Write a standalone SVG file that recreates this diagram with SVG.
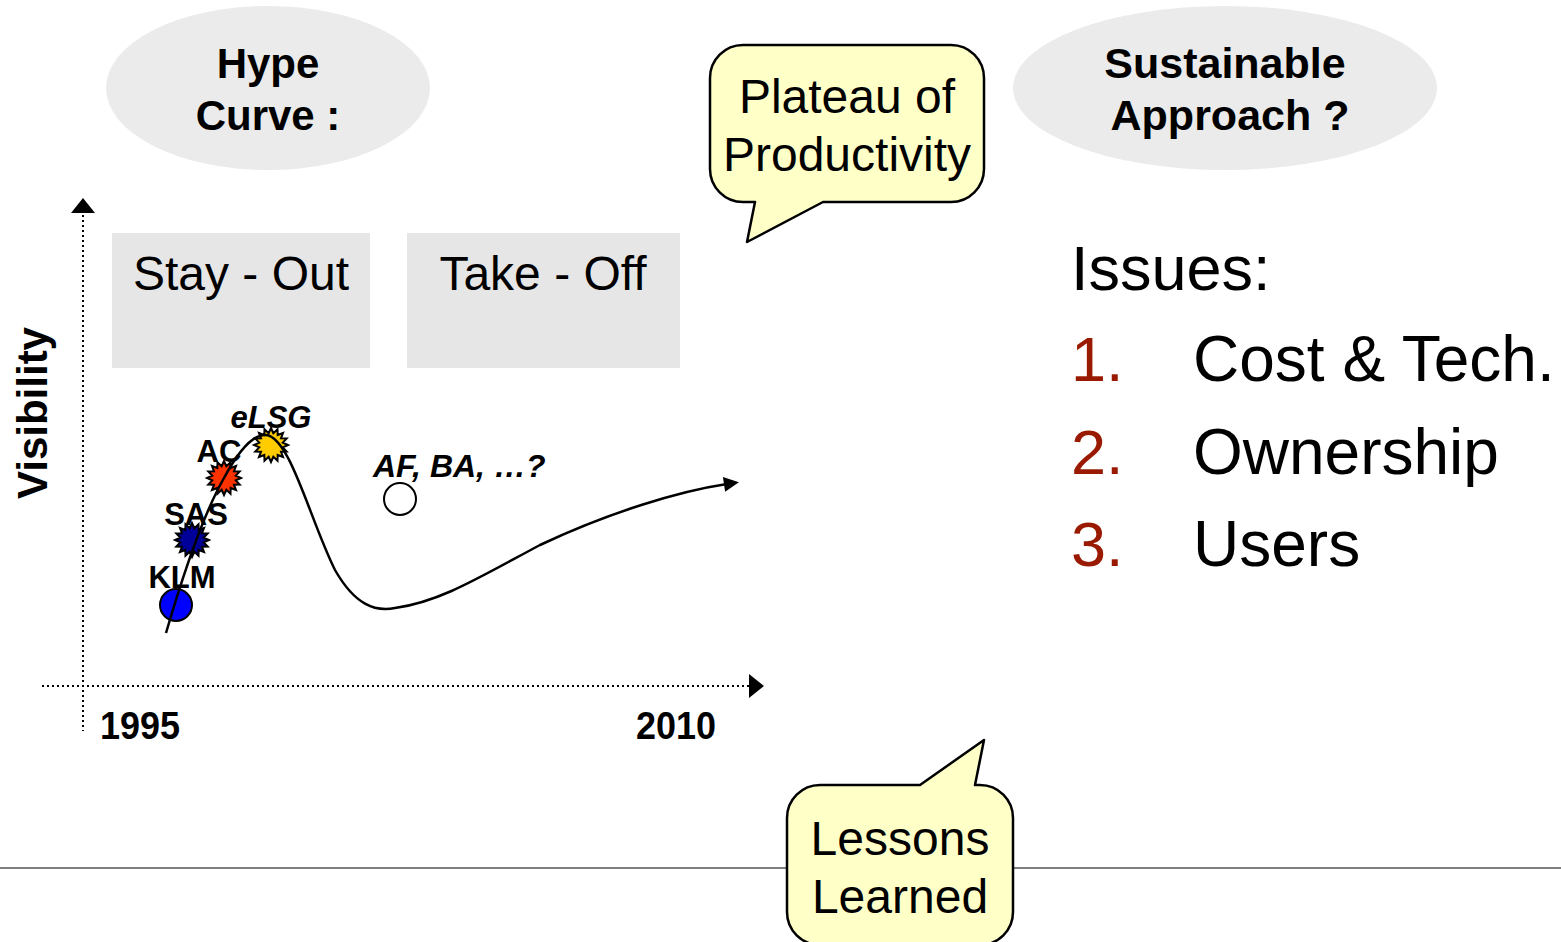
<svg xmlns="http://www.w3.org/2000/svg" width="1561" height="942" viewBox="0 0 1561 942">
<style>
.b{font-family:"Liberation Sans",Arial,sans-serif;font-weight:bold;fill:#000}
.r{font-family:"Liberation Sans",Arial,sans-serif;fill:#000}
.bi{font-family:"Liberation Sans",Arial,sans-serif;font-weight:bold;font-style:italic;fill:#000}
.num{font-family:"Liberation Sans",Arial,sans-serif;fill:#991a00}
.ell{fill:#ebebeb}
.box{fill:#e6e6e6}
.call{fill:#ffffc8;stroke:#000;stroke-width:2.5;stroke-linejoin:round}
.mk{stroke:#000;stroke-width:2}
</style>
<defs>
<path id="star" d="M17,0 L11.77,2.34 L15.71,6.51 L9.98,6.67 L12.02,12.02 L6.67,9.98 L6.51,15.71 L2.34,11.77 L0,17 L-2.34,11.77 L-6.51,15.71 L-6.67,9.98 L-12.02,12.02 L-9.98,6.67 L-15.71,6.51 L-11.77,2.34 L-17,0 L-11.77,-2.34 L-15.71,-6.51 L-9.98,-6.67 L-12.02,-12.02 L-6.67,-9.98 L-6.51,-15.71 L-2.34,-11.77 L0,-17 L2.34,-11.77 L6.51,-15.71 L6.67,-9.98 L12.02,-12.02 L9.98,-6.67 L15.71,-6.51 L11.77,-2.34 Z"/>
<marker id="arr" viewBox="0 0 10 10" refX="2" refY="5" markerWidth="7" markerHeight="6" markerUnits="strokeWidth" orient="auto">
<path d="M0,0 L10,5 L0,10 Z" fill="#000"/>
</marker>
</defs>
<rect width="1561" height="942" fill="#fff"/>

<line x1="0" y1="868" x2="1561" y2="868" stroke="#000" stroke-width="1.2"/>

<g id="hype-curve-title">
<ellipse class="ell" cx="268" cy="88" rx="162" ry="82"/>
<text class="b" x="268" y="78" font-size="42" text-anchor="middle">Hype</text>
<text class="b" x="268" y="130" font-size="42" text-anchor="middle">Curve :</text>
</g>

<g id="sustainable-title">
<ellipse class="ell" cx="1225" cy="88" rx="212" ry="82"/>
<text class="b" x="1225" y="78" font-size="43" text-anchor="middle">Sustainable</text>
<text class="b" x="1230" y="130" font-size="43" text-anchor="middle">Approach ?</text>
</g>

<g id="stay-out">
<rect class="box" x="112" y="233" width="258" height="135"/>
<text class="r" x="241" y="290" font-size="48" text-anchor="middle">Stay - Out</text>
</g>
<g id="take-off">
<rect class="box" x="407" y="233" width="273" height="135"/>
<text class="r" x="543" y="290" font-size="48" text-anchor="middle">Take - Off</text>
</g>

<g id="axes">
<line x1="83" y1="210" x2="83" y2="731" stroke="#000" stroke-width="2" stroke-dasharray="2,3"/>
<polygon points="83,198 71,213 95,213" fill="#000"/>
<line x1="42" y1="686" x2="750" y2="686" stroke="#000" stroke-width="2" stroke-dasharray="2,3"/>
<polygon points="764,686 749,674 749,698" fill="#000"/>
<text class="b" x="0" y="0" font-size="42" text-anchor="middle" transform="translate(47,413) rotate(-90)">Visibility</text>
<text class="b" x="100" y="739" font-size="38" textLength="80" lengthAdjust="spacingAndGlyphs">1995</text>
<text class="b" x="636" y="739" font-size="38" textLength="80" lengthAdjust="spacingAndGlyphs">2010</text>
</g>

<g id="klm">
<circle class="mk" cx="176" cy="605" r="16" fill="#0000ff"/>
<text class="b" x="182" y="588" font-size="31" text-anchor="middle">KLM</text>
</g>
<g id="sas">
<use href="#star" class="mk" fill="#000099" transform="translate(192,540)"/>
<text class="b" x="196" y="525" font-size="31" text-anchor="middle">SAS</text>
</g>
<g id="ac">
<use href="#star" class="mk" fill="#ff3300" transform="translate(224,478)"/>
<text class="b" x="219" y="462" font-size="31" text-anchor="middle">AC</text>
</g>
<g id="elsg">
<use href="#star" class="mk" fill="#ffcc00" transform="translate(271,445)"/>
<text class="bi" x="271" y="428" font-size="31" text-anchor="middle">eLSG</text>
</g>
<g id="af-ba">
<circle cx="400" cy="499" r="16" fill="#fff" stroke="#000" stroke-width="2"/>
<text class="bi" x="373" y="477" font-size="32">AF, BA, …?</text>
</g>

<g id="connectors">
<path d="M166,633 C180,585 200,520 224,478 C238,452 252,434 266,435 C290,437 310,520 335,570 C355,605 375,612 395,608 C440,602 480,577 540,545 C610,512 680,491 727,484" fill="none" stroke="#000" stroke-width="2.5" marker-end="url(#arr)"/>
</g>

<g id="plateau-callout">
<path class="call" d="M743,45 H951 A33,33 0 0 1 984,78 V169 A33,33 0 0 1 951,202 H823 L747,242 L755,202 H743 A33,33 0 0 1 710,169 V78 A33,33 0 0 1 743,45 Z"/>
<text class="r" x="847" y="113" font-size="48" text-anchor="middle">Plateau of</text>
<text class="r" x="847" y="171" font-size="48" text-anchor="middle">Productivity</text>
</g>

<g id="lessons-callout">
<path class="call" d="M820,785 H920 L984,740 L975,785 H980 A33,33 0 0 1 1013,818 V912 A33,33 0 0 1 980,945 H820 A33,33 0 0 1 787,912 V818 A33,33 0 0 1 820,785 Z"/>
<text class="r" x="900" y="855" font-size="48" text-anchor="middle">Lessons</text>
<text class="r" x="900" y="913" font-size="48" text-anchor="middle">Learned</text>
</g>

<g id="issues">
<text class="r" x="1071" y="290" font-size="63">Issues:</text>
<text class="num" x="1071" y="381" font-size="63">1.</text>
<text class="r" x="1193" y="381" font-size="64">Cost &amp; Tech.</text>
<text class="num" x="1071" y="474" font-size="63">2.</text>
<text class="r" x="1193" y="474" font-size="64">Ownership</text>
<text class="num" x="1071" y="566" font-size="63">3.</text>
<text class="r" x="1193" y="566" font-size="64">Users</text>
</g>
</svg>
